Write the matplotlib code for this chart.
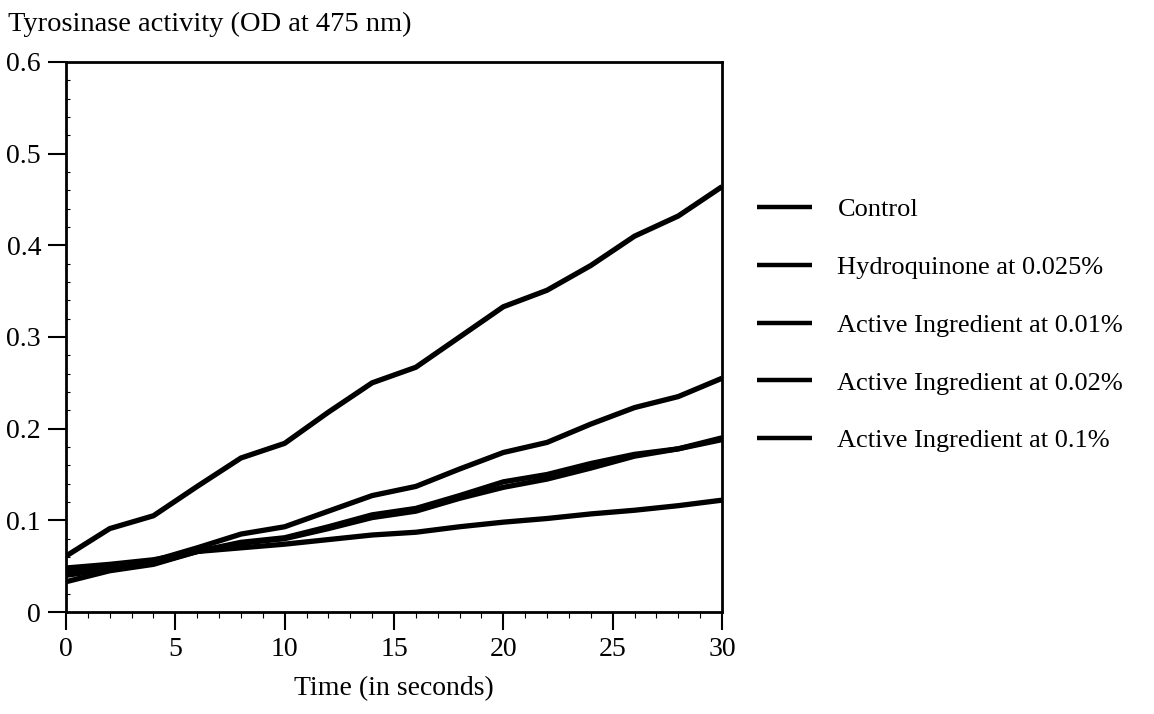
import matplotlib
matplotlib.use("Agg")
import matplotlib.pyplot as plt
from matplotlib.ticker import MultipleLocator

plt.rcParams['font.family'] = ['Liberation Serif', 'DejaVu Serif']

time_s = [0, 2, 4, 6, 8, 10, 12, 14, 16, 18, 20, 22, 24, 26, 28, 30]
control = [0.061, 0.091, 0.105, 0.137, 0.168, 0.184, 0.218, 0.250, 0.267, 0.300, 0.333, 0.351, 0.378, 0.410, 0.432, 0.464]
hydroquinone_0025 = [0.040, 0.047, 0.053, 0.066, 0.076, 0.081, 0.093, 0.106, 0.113, 0.127, 0.142, 0.150, 0.162, 0.172, 0.178, 0.190]
active_001 = [0.043, 0.050, 0.056, 0.070, 0.085, 0.093, 0.110, 0.127, 0.137, 0.156, 0.174, 0.185, 0.205, 0.223, 0.235, 0.255]
active_002 = [0.033, 0.045, 0.052, 0.066, 0.075, 0.080, 0.091, 0.103, 0.110, 0.124, 0.136, 0.145, 0.157, 0.170, 0.178, 0.188]
active_01 = [0.048, 0.052, 0.057, 0.066, 0.070, 0.074, 0.079, 0.084, 0.087, 0.093, 0.098, 0.102, 0.107, 0.111, 0.116, 0.122]

labels = ["Control", "Hydroquinone at 0.025%", "Active Ingredient at 0.01%",
          "Active Ingredient at 0.02%", "Active Ingredient at 0.1%"]
series = [control, hydroquinone_0025, active_001, active_002, active_01]

x_ticks = [0, 5, 10, 15, 20, 25, 30]
y_ticks = [0, 0.1, 0.2, 0.3, 0.4, 0.5, 0.6]
y_tick_labels = ["0", "0.1", "0.2", "0.3", "0.4", "0.5", "0.6"]

W, H = 1154, 714
fig = plt.figure(figsize=(W / 100, H / 100), dpi=100)
ax = fig.add_axes([66 / W, (H - 612) / H, 656 / W, 550 / H])

for lab, vals in zip(labels, series):
    ax.plot(time_s, vals, color="black", lw=3.8, solid_capstyle="butt", label=lab)

ax.set_xlim(0, 30)
ax.set_ylim(0, 0.6)
ax.set_xticks(x_ticks)
ax.set_yticks(y_ticks)
ax.set_yticklabels(y_tick_labels)
ax.xaxis.set_minor_locator(MultipleLocator(1))
ax.yaxis.set_minor_locator(MultipleLocator(0.02))

for s in ax.spines.values():
    s.set_linewidth(2.0)
    s.set_color("black")

ax.tick_params(axis="both", which="major", direction="out", length=13, width=1.5,
               labelsize=20, colors="black")
ax.tick_params(axis="y", which="major", pad=5)
ax.tick_params(axis="x", which="major", pad=5)
ax.tick_params(axis="x", which="minor", direction="out", length=4, width=0.8)
ax.tick_params(axis="y", which="minor", direction="in", length=3, width=0.8)

ax.set_xlabel("Time (in seconds)", fontsize=20, labelpad=10)
fig.text(8 / W, 1 - 24 / H, "Tyrosinase activity (OD at 475 nm)", fontsize=20.5,
         ha="left", va="center")

leg = ax.legend(loc="center left", bbox_to_anchor=(757 / W, (H - 325) / H),
                bbox_transform=fig.transFigure, frameon=False, fontsize=19,
                handlelength=2.1, handletextpad=0.95, labelspacing=1.3,
                borderpad=0, borderaxespad=0)
for line in leg.get_lines():
    line.set_linewidth(3.2)

fig.savefig("out.png", dpi=100)
